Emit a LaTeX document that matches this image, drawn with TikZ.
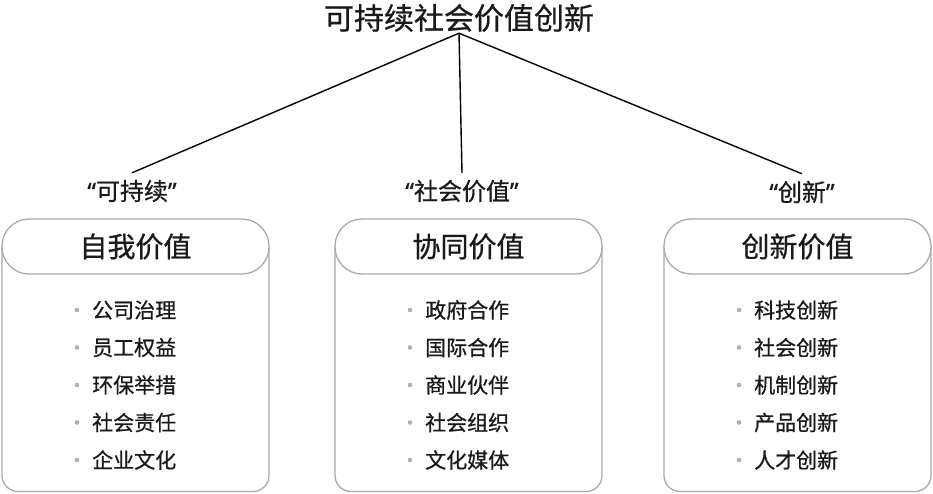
\documentclass[tikz,border=0pt]{standalone}
\usepackage{fontspec}
\setmainfont{Noto Sans CJK SC}[FakeBold=0.7]
\newfontfamily\qfont{Noto Sans}[FakeBold=0.7]
\definecolor{boxgray}{HTML}{A9A9A9}
\definecolor{dotgray}{HTML}{B0B0B0}
\definecolor{ink}{HTML}{1A1A1A}
\newcommand{\lquo}{{\qfont\char"201C}}
\newcommand{\rquo}{{\qfont\char"201D}}
\begin{document}
\begin{tikzpicture}[x=1pt,y=-1pt,
  boxline/.style={draw=boxgray, line width=1.3pt},
  header/.style={boxline, rounded corners=27pt, minimum width=267pt, minimum height=55pt, fill=white, inner sep=0pt, text=ink, font=\fontsize{28}{28}\selectfont},
  itemtext/.style={anchor=west, inner sep=0pt, text=ink, font=\fontsize{21}{21}\selectfont},
  quotelabel/.style={inner sep=0pt, minimum height=36pt, text=ink, font=\fontsize{24}{24}\selectfont},
  rootlabel/.style={inner sep=0pt, minimum height=30pt, text=ink, font=\fontsize{30}{30}\selectfont},
  connector/.style={draw=black, line width=1.4pt}
]
\useasboundingbox (0,0) rectangle (933,494);
\node[rootlabel] (root) at (459,18) {可持续社会价值创新};
\node[quotelabel] (q1) at (132,191) {\lquo 可持续\rquo};
\node[quotelabel] (q2) at (462,191) {\lquo 社会价值\rquo};
\node[quotelabel] (q3) at (802,192) {\lquo 创新\rquo};
\draw[connector] (root.south) -- (q1.north);
\draw[connector] (root.south) -- (q2.north);
\draw[connector] (root.south) -- (q3.north);
\foreach \bx/\nm/\ttl/\items in {
  2/A/自我价值/{公司治理,员工权益,环保举措,社会责任,企业文化},
  335/B/协同价值/{政府合作,国际合作,商业伙伴,社会组织,文化媒体},
  664/C/创新价值/{科技创新,社会创新,机制创新,产品创新,人才创新}}{
  \draw[boxline, rounded corners=16pt] (\bx,246.5) -- (\bx,491.5) -- (\bx+267,491.5) -- (\bx+267,246.5);
  \node[header] (h\nm) at (\bx+133.5,246.5) {\ttl};
  \foreach \itm [count=\k] in \items {
    \fill[dotgray] (\bx+75,272.5+37.5*\k) circle (2.3pt);
    \node[itemtext] (i\nm\k) at (\bx+90,272.5+37.5*\k) {\itm};
  }
}
\end{tikzpicture}
\end{document}
